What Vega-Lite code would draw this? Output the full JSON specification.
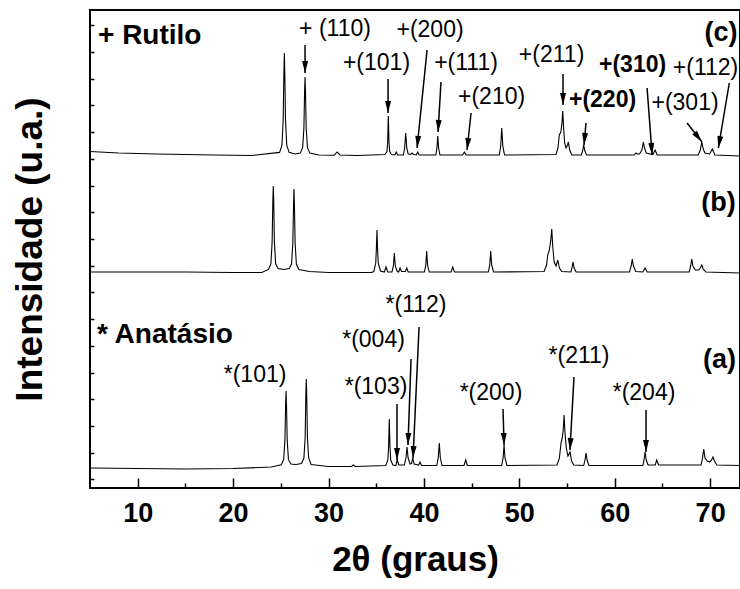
{
"$schema": "https://vega.github.io/schema/vega-lite/v6.json",
"autosize": "none",
"width": 650,
"height": 478,
"padding": {"left": 90, "top": 10, "right": 0, "bottom": 101},
"background": "white",
"config": {"view": {"stroke": "black", "strokeWidth": 2}, "font": "Liberation Sans"},
"resolve": {"axis": {"x": "independent", "y": "independent"}},
"datasets": {
"xrd": [
{"s":"c","t":5,"i":336.5},{"s":"c","t":8,"i":335},{"s":"c","t":12,"i":334},{"s":"c","t":18,"i":333},{"s":"c","t":22,"i":332.5},{"s":"c","t":24.87,"i":335.6},{"s":"c","t":25.12,"i":342.8},{"s":"c","t":25.25,"i":368.4},{"s":"c","t":25.32,"i":414.5},{"s":"c","t":25.37,"i":435},{"s":"c","t":25.42,"i":414.5},{"s":"c","t":25.49,"i":368.4},{"s":"c","t":25.62,"i":342.8},{"s":"c","t":25.87,"i":335.6},{"s":"c","t":26.5,"i":334},{"s":"c","t":27.04,"i":334.9},{"s":"c","t":27.29,"i":340.4},{"s":"c","t":27.42,"i":360},{"s":"c","t":27.49,"i":395.3},{"s":"c","t":27.54,"i":411},{"s":"c","t":27.59,"i":395.3},{"s":"c","t":27.66,"i":360},{"s":"c","t":27.79,"i":340.4},{"s":"c","t":28.04,"i":334.9},{"s":"c","t":29,"i":333},{"s":"c","t":30.6,"i":332.8},{"s":"c","t":30.9,"i":336},{"s":"c","t":31.2,"i":333},{"s":"c","t":33,"i":332.5},{"s":"c","t":35.9,"i":333.5},{"s":"c","t":36.13,"i":336.5},{"s":"c","t":36.2,"i":346},{"s":"c","t":36.27,"i":372},{"s":"c","t":36.34,"i":346},{"s":"c","t":36.41,"i":336.5},{"s":"c","t":36.6,"i":333.5},{"s":"c","t":36.95,"i":333},{"s":"c","t":37.1,"i":336},{"s":"c","t":37.25,"i":333},{"s":"c","t":37.85,"i":333},{"s":"c","t":37.98,"i":340},{"s":"c","t":38.09,"i":355},{"s":"c","t":38.2,"i":340},{"s":"c","t":38.35,"i":334},{"s":"c","t":38.6,"i":333.5},{"s":"c","t":38.75,"i":335},{"s":"c","t":38.9,"i":333.5},{"s":"c","t":39.2,"i":333},{"s":"c","t":39.35,"i":336},{"s":"c","t":39.5,"i":333},{"s":"c","t":41.25,"i":333},{"s":"c","t":41.36,"i":340},{"s":"c","t":41.45,"i":352},{"s":"c","t":41.54,"i":340},{"s":"c","t":41.68,"i":333},{"s":"c","t":44.05,"i":333},{"s":"c","t":44.24,"i":336},{"s":"c","t":44.42,"i":333},{"s":"c","t":47.9,"i":333},{"s":"c","t":48.05,"i":342},{"s":"c","t":48.16,"i":360},{"s":"c","t":48.27,"i":342},{"s":"c","t":48.45,"i":333},{"s":"c","t":53.85,"i":333.5},{"s":"c","t":54.05,"i":340},{"s":"c","t":54.19,"i":353},{"s":"c","t":54.35,"i":356},{"s":"c","t":54.47,"i":365},{"s":"c","t":54.55,"i":377},{"s":"c","t":54.63,"i":362},{"s":"c","t":54.75,"i":345},{"s":"c","t":54.9,"i":340},{"s":"c","t":55.05,"i":343},{"s":"c","t":55.14,"i":346},{"s":"c","t":55.28,"i":338},{"s":"c","t":55.5,"i":333},{"s":"c","t":56.5,"i":333},{"s":"c","t":56.63,"i":337},{"s":"c","t":56.75,"i":343},{"s":"c","t":56.87,"i":337},{"s":"c","t":57.05,"i":333},{"s":"c","t":62.05,"i":333},{"s":"c","t":62.23,"i":335},{"s":"c","t":62.4,"i":334},{"s":"c","t":62.6,"i":334},{"s":"c","t":62.85,"i":338},{"s":"c","t":63.0,"i":346},{"s":"c","t":63.12,"i":340},{"s":"c","t":63.3,"i":335},{"s":"c","t":64.0,"i":333.5},{"s":"c","t":64.23,"i":338},{"s":"c","t":64.45,"i":333},{"s":"c","t":68.75,"i":333},{"s":"c","t":68.97,"i":338},{"s":"c","t":69.12,"i":346},{"s":"c","t":69.28,"i":339},{"s":"c","t":69.45,"i":335},{"s":"c","t":69.95,"i":334},{"s":"c","t":70.23,"i":339},{"s":"c","t":70.5,"i":333},{"s":"c","t":73.13,"i":332},
{"s":"b","t":5,"i":216},{"s":"b","t":15,"i":216},{"s":"b","t":20,"i":215.5},{"s":"b","t":23,"i":215.5},{"s":"b","t":23.71,"i":218.6},{"s":"b","t":23.96,"i":224.2},{"s":"b","t":24.09,"i":245.8},{"s":"b","t":24.16,"i":285},{"s":"b","t":24.21,"i":302},{"s":"b","t":24.26,"i":285},{"s":"b","t":24.33,"i":245.8},{"s":"b","t":24.46,"i":224.2},{"s":"b","t":24.71,"i":219.5},{"s":"b","t":25.3,"i":218.5},{"s":"b","t":25.88,"i":219.5},{"s":"b","t":26.13,"i":224},{"s":"b","t":26.26,"i":245},{"s":"b","t":26.33,"i":282},{"s":"b","t":26.38,"i":299},{"s":"b","t":26.43,"i":282},{"s":"b","t":26.5,"i":245},{"s":"b","t":26.63,"i":224},{"s":"b","t":26.88,"i":218.5},{"s":"b","t":28,"i":216.5},{"s":"b","t":30,"i":215.5},{"s":"b","t":34.5,"i":215.5},{"s":"b","t":34.75,"i":216.5},{"s":"b","t":34.95,"i":225},{"s":"b","t":35.02,"i":240},{"s":"b","t":35.08,"i":258},{"s":"b","t":35.14,"i":240},{"s":"b","t":35.21,"i":225},{"s":"b","t":35.45,"i":217},{"s":"b","t":35.85,"i":216},{"s":"b","t":36.03,"i":221},{"s":"b","t":36.2,"i":216},{"s":"b","t":36.65,"i":216},{"s":"b","t":36.8,"i":222},{"s":"b","t":36.9,"i":235},{"s":"b","t":37.0,"i":222},{"s":"b","t":37.2,"i":216.5},{"s":"b","t":37.35,"i":216},{"s":"b","t":37.5,"i":220},{"s":"b","t":37.65,"i":216.5},{"s":"b","t":38.05,"i":216.5},{"s":"b","t":38.2,"i":220},{"s":"b","t":38.35,"i":216},{"s":"b","t":40.05,"i":216},{"s":"b","t":40.2,"i":223},{"s":"b","t":40.29,"i":237},{"s":"b","t":40.38,"i":223},{"s":"b","t":40.55,"i":216},{"s":"b","t":42.85,"i":216},{"s":"b","t":43.02,"i":221},{"s":"b","t":43.2,"i":216},{"s":"b","t":46.75,"i":216},{"s":"b","t":46.9,"i":223},{"s":"b","t":47.0,"i":237},{"s":"b","t":47.1,"i":223},{"s":"b","t":47.3,"i":216},{"s":"b","t":52.6,"i":216.5},{"s":"b","t":52.85,"i":223},{"s":"b","t":52.98,"i":233},{"s":"b","t":53.15,"i":238},{"s":"b","t":53.3,"i":248},{"s":"b","t":53.4,"i":259},{"s":"b","t":53.5,"i":242},{"s":"b","t":53.65,"i":226},{"s":"b","t":53.85,"i":222},{"s":"b","t":54.03,"i":228},{"s":"b","t":54.2,"i":220},{"s":"b","t":54.45,"i":216.5},{"s":"b","t":55.4,"i":216},{"s":"b","t":55.52,"i":220},{"s":"b","t":55.63,"i":226},{"s":"b","t":55.75,"i":220},{"s":"b","t":55.95,"i":216},{"s":"b","t":61.55,"i":216},{"s":"b","t":61.72,"i":222},{"s":"b","t":61.84,"i":229},{"s":"b","t":61.96,"i":222},{"s":"b","t":62.2,"i":216.5},{"s":"b","t":62.95,"i":216},{"s":"b","t":63.18,"i":220},{"s":"b","t":63.4,"i":216},{"s":"b","t":67.8,"i":216},{"s":"b","t":67.96,"i":222},{"s":"b","t":68.07,"i":229},{"s":"b","t":68.2,"i":222},{"s":"b","t":68.45,"i":218},{"s":"b","t":68.8,"i":218},{"s":"b","t":68.97,"i":220},{"s":"b","t":69.12,"i":223},{"s":"b","t":69.27,"i":219},{"s":"b","t":69.55,"i":216},{"s":"b","t":73.13,"i":215},
{"s":"a","t":5,"i":20},{"s":"a","t":10,"i":19.5},{"s":"a","t":15,"i":19},{"s":"a","t":20,"i":19.5},{"s":"a","t":24,"i":21},{"s":"a","t":25.05,"i":23.3},{"s":"a","t":25.3,"i":28.6},{"s":"a","t":25.43,"i":47.6},{"s":"a","t":25.5,"i":81.8},{"s":"a","t":25.55,"i":97},{"s":"a","t":25.6,"i":81.8},{"s":"a","t":25.67,"i":47.6},{"s":"a","t":25.8,"i":28.6},{"s":"a","t":26.05,"i":24},{"s":"a","t":26.6,"i":23.5},{"s":"a","t":27.17,"i":24.5},{"s":"a","t":27.42,"i":30},{"s":"a","t":27.55,"i":50},{"s":"a","t":27.62,"i":91},{"s":"a","t":27.67,"i":109},{"s":"a","t":27.72,"i":91},{"s":"a","t":27.79,"i":50},{"s":"a","t":27.92,"i":30},{"s":"a","t":28.17,"i":23.5},{"s":"a","t":30,"i":21.5},{"s":"a","t":32.4,"i":21.5},{"s":"a","t":32.6,"i":23},{"s":"a","t":32.8,"i":21.5},{"s":"a","t":36.0,"i":22.5},{"s":"a","t":36.22,"i":28},{"s":"a","t":36.3,"i":42},{"s":"a","t":36.37,"i":69},{"s":"a","t":36.44,"i":42},{"s":"a","t":36.52,"i":28},{"s":"a","t":36.75,"i":23},{"s":"a","t":37.05,"i":22.5},{"s":"a","t":37.21,"i":28},{"s":"a","t":37.37,"i":23},{"s":"a","t":37.95,"i":23},{"s":"a","t":38.12,"i":30},{"s":"a","t":38.23,"i":41},{"s":"a","t":38.34,"i":30},{"s":"a","t":38.55,"i":24},{"s":"a","t":38.7,"i":24.5},{"s":"a","t":38.83,"i":30},{"s":"a","t":38.97,"i":24},{"s":"a","t":39.45,"i":23},{"s":"a","t":39.59,"i":26},{"s":"a","t":39.75,"i":22.5},{"s":"a","t":41.35,"i":22.5},{"s":"a","t":41.5,"i":30},{"s":"a","t":41.61,"i":45},{"s":"a","t":41.72,"i":30},{"s":"a","t":41.9,"i":22.5},{"s":"a","t":44.2,"i":22.5},{"s":"a","t":44.38,"i":28},{"s":"a","t":44.55,"i":22.5},{"s":"a","t":48.15,"i":22.5},{"s":"a","t":48.3,"i":30},{"s":"a","t":48.4,"i":43},{"s":"a","t":48.5,"i":30},{"s":"a","t":48.7,"i":22.5},{"s":"a","t":53.95,"i":23},{"s":"a","t":54.2,"i":30},{"s":"a","t":54.37,"i":45},{"s":"a","t":54.5,"i":50},{"s":"a","t":54.6,"i":58},{"s":"a","t":54.69,"i":73},{"s":"a","t":54.78,"i":56},{"s":"a","t":54.92,"i":40},{"s":"a","t":55.1,"i":32},{"s":"a","t":55.31,"i":36},{"s":"a","t":55.48,"i":27},{"s":"a","t":55.7,"i":23},{"s":"a","t":56.75,"i":22.5},{"s":"a","t":56.88,"i":28},{"s":"a","t":56.99,"i":35},{"s":"a","t":57.1,"i":28},{"s":"a","t":57.3,"i":22.5},{"s":"a","t":62.95,"i":22.5},{"s":"a","t":63.07,"i":28},{"s":"a","t":63.18,"i":36},{"s":"a","t":63.3,"i":28},{"s":"a","t":63.5,"i":23},{"s":"a","t":64.25,"i":23},{"s":"a","t":64.4,"i":28},{"s":"a","t":64.6,"i":23},{"s":"a","t":69.05,"i":23},{"s":"a","t":69.2,"i":30},{"s":"a","t":69.33,"i":39},{"s":"a","t":69.46,"i":30},{"s":"a","t":69.7,"i":27},{"s":"a","t":69.95,"i":26},{"s":"a","t":70.15,"i":28},{"s":"a","t":70.3,"i":31},{"s":"a","t":70.45,"i":27},{"s":"a","t":70.7,"i":23},{"s":"a","t":73.13,"i":22.5}
],
"arrows": [
{"t":27.54,"i":443,"t2":27.54,"i2":415},
{"t":36.24,"i":409,"t2":36.24,"i2":375},
{"t":40.33,"i":438,"t2":39.28,"i2":340},
{"t":41.79,"i":406,"t2":41.48,"i2":356},
{"t":44.94,"i":375,"t2":44.52,"i2":338},
{"t":54.58,"i":414,"t2":54.58,"i2":383},
{"t":56.99,"i":365,"t2":56.78,"i2":343},
{"t":63.39,"i":400,"t2":63.92,"i2":333},
{"t":67.58,"i":365,"t2":69.15,"i2":346},
{"t":72.01,"i":405,"t2":70.86,"i2":340},
{"t":37.18,"i":84,"t2":37.18,"i2":28},
{"t":38.65,"i":129,"t2":38.33,"i2":43},
{"t":39.49,"i":161,"t2":38.86,"i2":30},
{"t":48.29,"i":79,"t2":48.4,"i2":43},
{"t":55.73,"i":111,"t2":55.31,"i2":38},
{"t":63.28,"i":78,"t2":63.28,"i2":36}
],
"labels": [
{"k":"pl","t":5.84,"i":452,"txt":"+ Rutilo"},
{"k":"pl","t":5.73,"i":153,"txt":"* Anatásio"},
{"k":"p","t":71.14,"i":455,"txt":"(c)"},
{"k":"p","t":70.88,"i":285,"txt":"(b)"},
{"k":"p","t":70.98,"i":128,"txt":"(a)"},
{"k":"n","t":30.68,"i":459,"txt":"+ (110)"},
{"k":"n","t":35.03,"i":425,"txt":"+(101)"},
{"k":"n","t":40.64,"i":458,"txt":"+(200)"},
{"k":"n","t":44.41,"i":425,"txt":"+(111)"},
{"k":"n","t":47.09,"i":391,"txt":"+(210)"},
{"k":"n","t":53.38,"i":433,"txt":"+(211)"},
{"k":"b","t":58.72,"i":388,"txt":"+(220)"},
{"k":"b","t":61.87,"i":423,"txt":"+(310)"},
{"k":"n","t":67.37,"i":385,"txt":"+(301)"},
{"k":"n","t":69.52,"i":420,"txt":"+(112)"},
{"k":"n","t":22.3,"i":113,"txt":"*(101)"},
{"k":"n","t":34.98,"i":101,"txt":"*(103)"},
{"k":"n","t":34.72,"i":148,"txt":"*(004)"},
{"k":"n","t":39.17,"i":183,"txt":"*(112)"},
{"k":"n","t":47.03,"i":95,"txt":"*(200)"},
{"k":"n","t":56.26,"i":132,"txt":"*(211)"},
{"k":"n","t":63.07,"i":95,"txt":"*(204)"}
]
},
"layer": [
{
"data": {"name": "xrd"},
"mark": {"type": "line", "color": "black", "strokeWidth": 1.1, "clip": true},
"encoding": {
"x": {"field": "t", "type": "quantitative",
"scale": {"domain": [5, 73.13], "nice": false, "zero": false},
"axis": {"orient": "bottom", "values": [10,20,30,40,50,60,70],
"tickSize": -10,
"tickColor": "black", "tickWidth": 1.5, "domain": false, "grid": false,
"labelFont": "Liberation Sans", "labelFontSize": 27, "labelFontWeight": "bold", "labelColor": "black",
"labelPadding": 22,
"title": "2θ (graus)", "titleFont": "Liberation Sans", "titleFontSize": 35, "titleFontWeight": "bold", "titleColor": "black", "titlePadding": 16}},
"y": {"field": "i", "type": "quantitative",
"scale": {"domain": [0, 478], "nice": false, "zero": false},
"axis": {"orient": "left", "values": [8.7,35.4,62.1,88.8,115.5,142.2,168.9,195.6,222.3,249,275.7,302.4,329.1,355.8,382.5,409.2,435.9,462.6],
"labels": false, "tickSize": -4, "tickColor": "black", "tickWidth": 1.5, "domain": false, "grid": false,
"title": "Intensidade (u.a.)", "titleFont": "Liberation Sans", "titleFontSize": 37, "titleFontWeight": "bold", "titleColor": "black", "titlePadding": 40}},
"detail": {"field": "s", "type": "nominal"}
}
},
{
"data": {"name": "arrows"},
"mark": {"type": "rule", "color": "black", "strokeWidth": 1.5},
"encoding": {
"x": {"field": "t", "type": "quantitative",
"axis": {"orient": "bottom", "values": [15,25,35,45,55,65], "labels": false, "title": null, "tickSize": -5, "tickColor": "black", "tickWidth": 1.5, "domain": false, "grid": false}},
"y": {"field": "i", "type": "quantitative", "axis": null},
"x2": {"field": "t2"},
"y2": {"field": "i2"}
}
},
{
"data": {"name": "arrows"},
"transform": [{"calculate": "-atan2((datum.t2 - datum.t) * 9.54, datum.i - datum.i2) * 180 / PI", "as": "a"}],
"mark": {"type": "point", "shape": "M0,0L-0.5,-2L0.5,-2Z", "filled": true, "color": "black", "size": 144, "opacity": 1, "strokeWidth": 0},
"encoding": {
"x": {"field": "t2", "type": "quantitative", "axis": null},
"y": {"field": "i2", "type": "quantitative", "axis": null},
"angle": {"field": "a", "type": "quantitative", "scale": null}
}
},
{
"data": {"name": "labels"},
"transform": [{"filter": "datum.k == 'n'"}],
"mark": {"type": "text", "font": "Liberation Sans", "fontSize": 23, "color": "black", "align": "center", "baseline": "middle"},
"encoding": {
"x": {"field": "t", "type": "quantitative", "axis": null},
"y": {"field": "i", "type": "quantitative", "axis": null},
"text": {"field": "txt", "type": "nominal"}
}
},
{
"data": {"name": "labels"},
"transform": [{"filter": "datum.k == 'b'"}],
"mark": {"type": "text", "font": "Liberation Sans", "fontSize": 23, "fontWeight": "bold", "color": "black", "align": "center", "baseline": "middle"},
"encoding": {
"x": {"field": "t", "type": "quantitative", "axis": null},
"y": {"field": "i", "type": "quantitative", "axis": null},
"text": {"field": "txt", "type": "nominal"}
}
},
{
"data": {"name": "labels"},
"transform": [{"filter": "datum.k == 'p'"}],
"mark": {"type": "text", "font": "Liberation Sans", "fontSize": 27, "fontWeight": "bold", "color": "black", "align": "center", "baseline": "middle"},
"encoding": {
"x": {"field": "t", "type": "quantitative", "axis": null},
"y": {"field": "i", "type": "quantitative", "axis": null},
"text": {"field": "txt", "type": "nominal"}
}
},
{
"data": {"name": "labels"},
"transform": [{"filter": "datum.k == 'pl'"}],
"mark": {"type": "text", "font": "Liberation Sans", "fontSize": 28, "fontWeight": "bold", "color": "black", "align": "left", "baseline": "middle"},
"encoding": {
"x": {"field": "t", "type": "quantitative", "axis": null},
"y": {"field": "i", "type": "quantitative", "axis": null},
"text": {"field": "txt", "type": "nominal"}
}
}
]
}
